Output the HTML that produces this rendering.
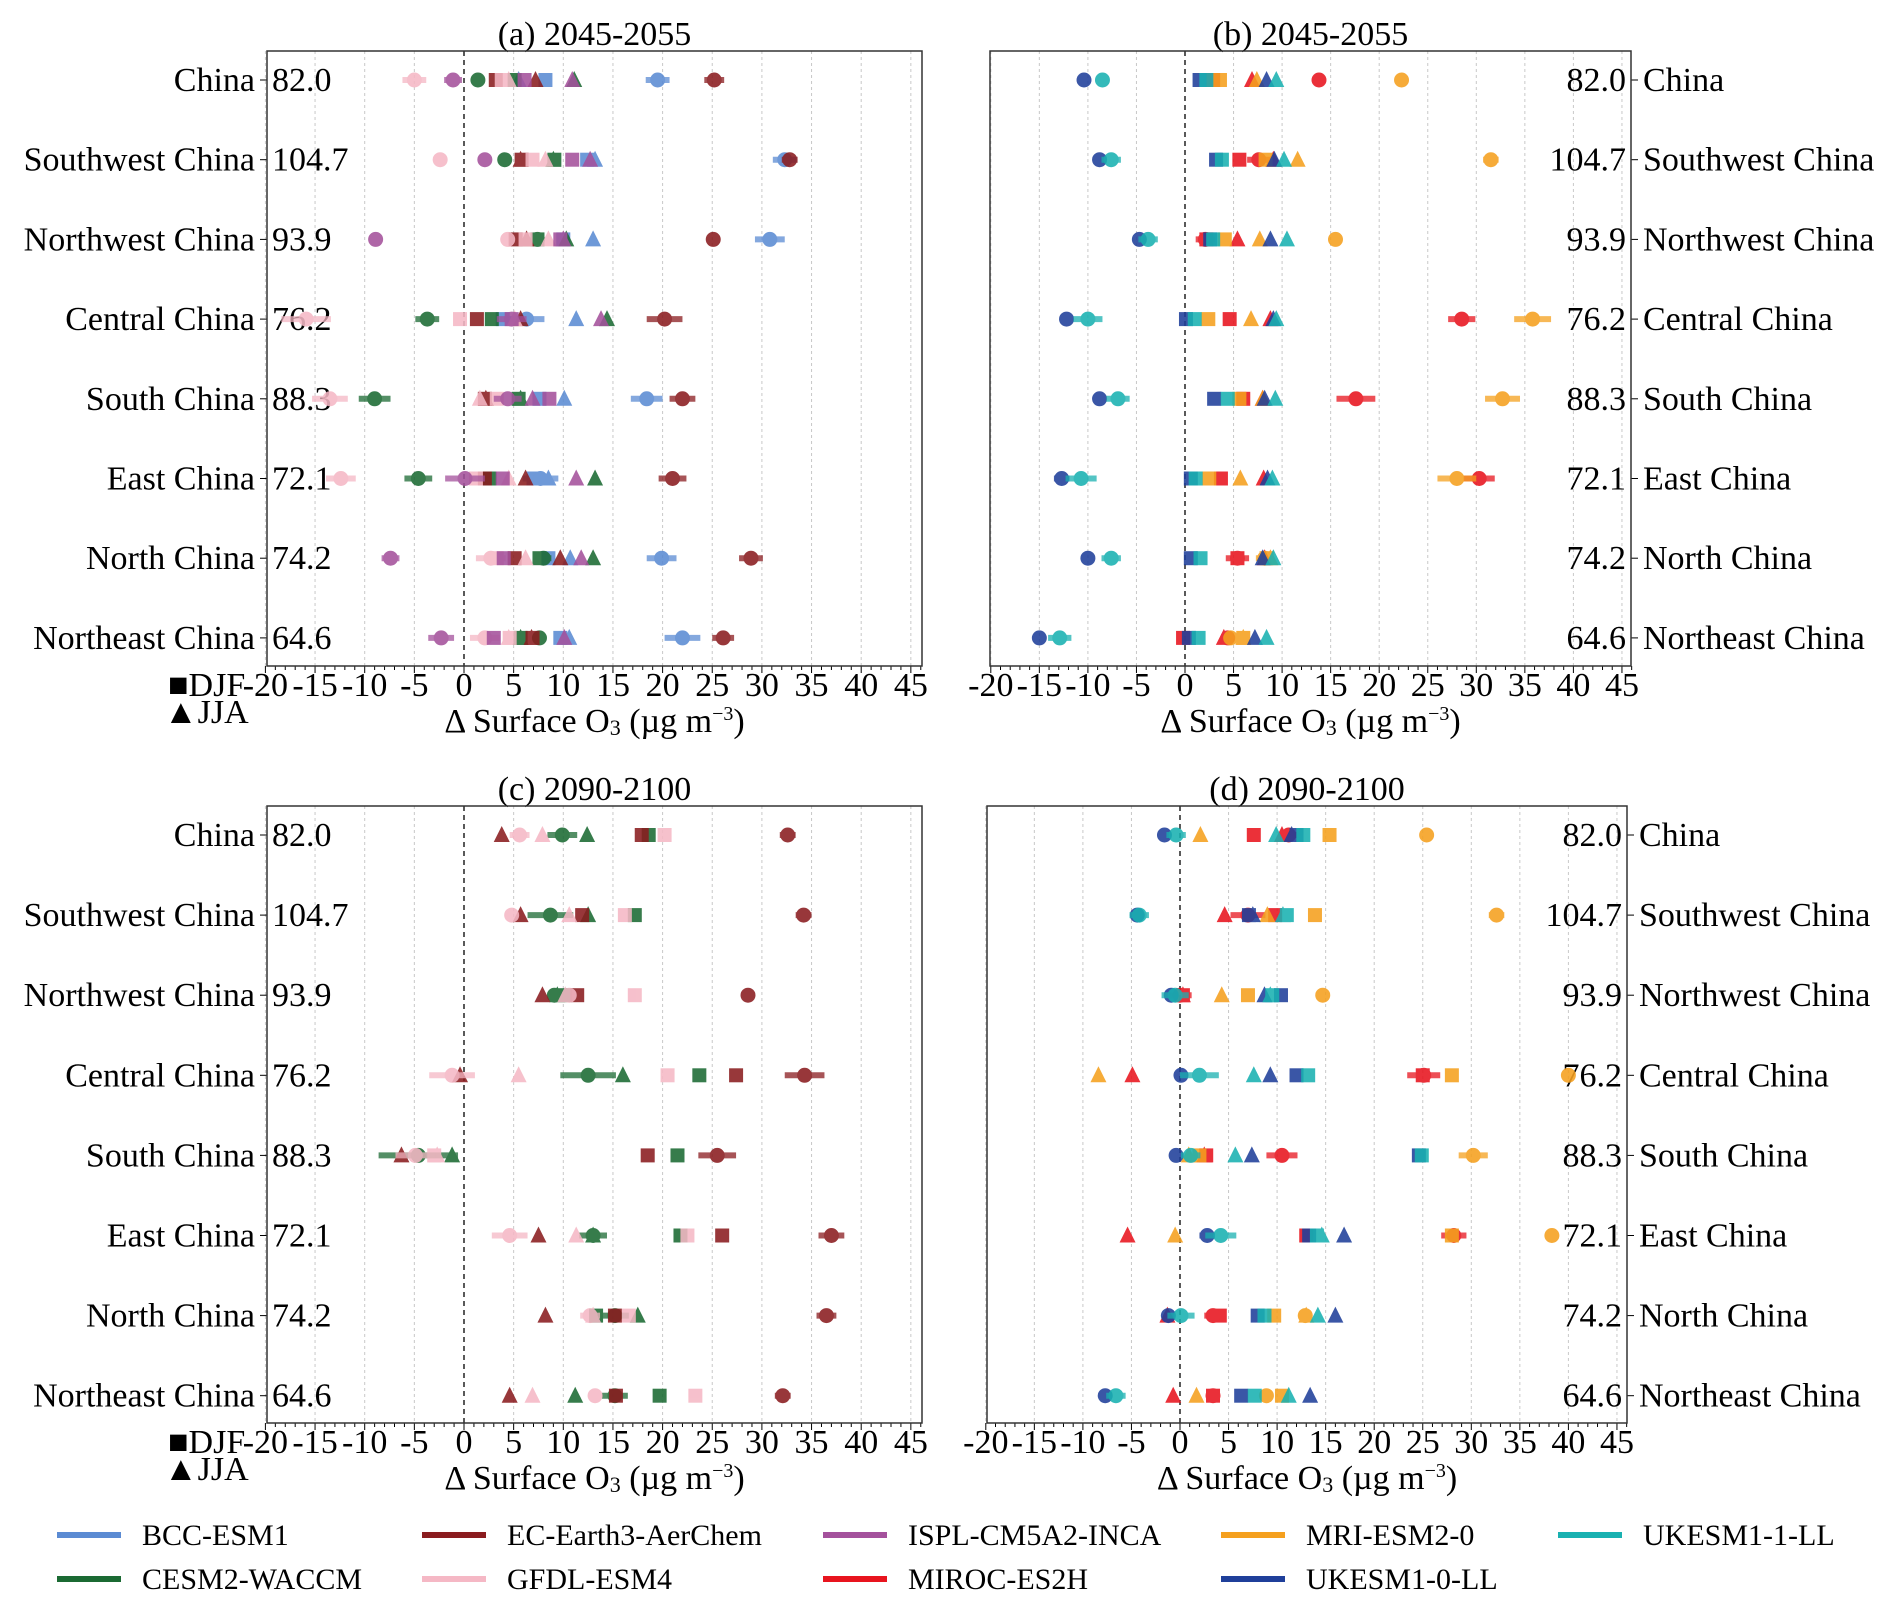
<!DOCTYPE html>
<html><head><meta charset="utf-8"><title>Surface O3 change</title>
<style>
body{margin:0;background:#fff;}
svg{display:block;font-family:"Liberation Serif",serif;}
</style></head>
<body>
<svg id="fig" width="1892" height="1610" viewBox="0 0 1892 1610" xmlns="http://www.w3.org/2000/svg"></svg>
<script>
const regions = ["China","Southwest China","Northwest China","Central China","South China","East China","North China","Northeast China"];
const baselineVals = ["82.0","104.7","93.9","76.2","88.3","72.1","74.2","64.6"];
const xTicks = [-20,-15,-10,-5,0,5,10,15,20,25,30,35,40,45];
const models = ["BCC-ESM1","CESM2-WACCM","EC-Earth3-AerChem","GFDL-ESM4","ISPL-CM5A2-INCA","MIROC-ES2H","MRI-ESM2-0","UKESM1-0-LL","UKESM1-1-LL"];
const modelColors = ["#5b8bd3","#1b6a33","#8a1c1f","#f5b8c5","#a4519c","#e8141e","#f5a01e","#1f3f9a","#19b1b1"];

// Panel (a) 2045-2055
const aBccAnn=[19.5,32.3,30.8,6.3,18.4,7.7,19.9,22.0], aBccErr=[1.2,1.2,1.5,1.8,1.6,1.8,1.5,1.8], aBccDjf=[8.2,12.4,10.0,3.9,7.6,7.0,8.5,9.7], aBccJja=[5.5,13.2,13.0,11.3,10.1,8.5,10.7,10.6];
const aCesmAnn=[1.4,4.1,7.4,-3.7,-9.0,-4.6,8.0,7.6], aCesmErr=[0.5,0.6,0.6,1.2,1.6,1.4,0.8,0.7], aCesmDjf=[5.1,9.1,7.4,2.8,5.5,2.6,7.6,5.7], aCesmJja=[11.1,9.0,10.3,14.4,5.7,13.2,13.0,5.7];
const aEcAnn=[25.2,32.8,25.1,20.2,22.0,21.0,28.9,26.1], aEcErr=[1.0,0.8,0.6,1.8,1.3,1.4,1.2,1.1], aEcDjf=[3.2,5.8,5.2,1.3,2.1,2.1,5.1,6.9], aEcJja=[7.2,5.7,6.3,5.7,2.2,6.2,9.7,6.8];
const aGfdlAnn=[-5.0,-2.4,4.4,-15.9,-13.5,-12.4,2.7,2.1], aGfdlErr=[1.2,0.6,0.5,2.5,1.8,1.5,1.5,1.5], aGfdlDjf=[3.8,6.9,6.2,-0.4,3.3,1.2,3.3,4.6], aGfdlJja=[4.5,8.2,8.5,5.1,1.6,4.5,6.2,4.5];
const aIsplAnn=[-1.1,2.1,-8.9,4.8,4.4,0.1,-7.4,-2.3], aIsplErr=[0.9,0.5,0.5,1.5,1.4,2.0,0.9,1.3], aIsplDjf=[6.1,10.9,9.7,4.8,8.6,3.9,4.0,3.0], aIsplJja=[10.9,12.7,10.0,13.8,6.9,11.3,11.8,10.1];

// Panel (b) 2045-2055
const bMirocAnn=[13.8,7.6,2.1,28.5,17.6,30.3,5.4,4.4], bMirocErr=[0.5,1.2,1.0,1.4,2.0,1.6,1.2,0.5], bMirocDjf=[2.9,5.6,2.2,4.6,6.0,3.7,5.4,-0.2], bMirocJja=[6.9,9.1,5.4,8.8,8.0,8.1,8.2,4.0];
const bMriAnn=[22.3,31.5,15.5,35.8,32.7,28.0,8.2,4.7], bMriErr=[0.7,0.8,0.5,1.9,1.8,2.0,0.9,0.5], bMriDjf=[3.6,8.3,4.1,2.4,5.6,2.5,8.4,6.0], bMriJja=[7.4,11.6,7.7,6.8,8.0,5.7,8.8,6.0];
const bUk0Ann=[-10.4,-8.8,-4.7,-12.2,-8.8,-12.7,-10.0,-15.0], bUk0Err=[0.5,0.5,0.5,0.7,0.7,0.8,0.4,0.4], bUk0Djf=[1.5,3.2,2.6,0.1,3.0,0.6,0.6,0.4], bUk0Jja=[8.4,9.2,8.8,9.1,8.2,8.5,8.0,7.2];
const bUk1Ann=[-8.5,-7.6,-3.8,-10.0,-6.9,-10.7,-7.6,-12.9], bUk1Err=[0.7,1.0,1.0,1.5,1.2,1.6,1.0,1.2], bUk1Djf=[2.2,3.8,2.9,1.0,4.4,1.1,1.6,1.4], bUk1Jja=[9.4,10.2,10.5,9.4,9.3,9.0,9.1,8.4];

// Panel (c) 2090-2100
const cCesmAnn=[9.9,8.7,9.1,12.5,-4.6,13.0,15.2,15.2], cCesmErr=[1.5,2.3,0.6,2.8,4.0,1.4,1.4,1.3], cCesmDjf=[18.6,17.2,10.2,23.7,21.5,21.8,13.3,19.7], cCesmJja=[12.4,12.5,9.4,16.0,-1.2,13.0,17.5,11.2];
const cEcAnn=[32.6,34.2,28.6,34.3,25.5,37.0,36.5,32.1], cEcErr=[0.8,0.8,0.5,2.0,1.9,1.3,1.0,0.8], cEcDjf=[17.9,11.9,11.4,27.4,18.5,26.0,15.2,15.3], cEcJja=[3.8,5.7,7.9,-0.4,-6.3,7.5,8.2,4.6];
const cGfdlAnn=[5.6,4.8,10.6,-1.2,-4.9,4.6,12.7,13.2], cGfdlErr=[1.0,0.5,0.5,2.3,2.0,1.8,1.0,0.5], cGfdlDjf=[20.2,16.2,17.2,20.5,-3.0,22.5,16.6,23.3], cGfdlJja=[7.9,10.6,10.2,5.5,-2.7,11.3,13.0,6.9];

// Panel (d) 2090-2100
const dMirocAnn=[11.2,7.0,0.0,25.1,10.5,28.2,3.4,3.4], dMirocErr=[0.8,1.8,1.2,1.7,1.6,1.3,0.9,0.7], dMirocDjf=[7.6,9.8,0.3,25.0,2.7,13.0,4.1,3.4], dMirocJja=[10.5,4.6,0.3,-4.9,2.5,-5.4,-1.3,-0.7];
const dMriAnn=[25.4,32.6,14.7,40.0,30.2,38.3,12.9,8.9], dMriErr=[0.6,0.8,0.5,0.7,1.5,0.5,0.5,0.5], dMriDjf=[15.4,13.9,7.0,28.0,2.0,28.0,9.7,10.5], dMriJja=[2.1,9.0,4.3,-8.4,0.9,-0.5,13.0,1.7];
const dUk0Ann=[-1.6,-4.4,-0.9,0.1,-0.4,2.8,-1.2,-7.7], dUk0Err=[0.5,0.5,0.5,0.7,0.5,0.8,0.5,0.5], dUk0Djf=[12.0,7.1,10.4,12.0,24.6,13.3,8.0,6.3], dUk0Jja=[11.5,7.5,8.7,9.3,7.4,16.9,16.0,13.4];
const dUk1Ann=[-0.4,-4.2,-0.5,2.0,1.1,4.2,0.1,-6.6], dUk1Err=[1.0,1.0,1.4,2.0,1.0,1.6,1.4,1.0], dUk1Djf=[12.7,11.0,9.5,13.2,24.9,14.1,8.7,7.7], dUk1Jja=[9.9,10.6,9.3,7.6,5.7,14.6,14.2,11.2];

const NS="http://www.w3.org/2000/svg";
const svg=document.getElementById('fig');
function mk(tag,attrs,parent,text){const e=document.createElementNS(NS,tag);for(const k in attrs)e.setAttribute(k,attrs[k]);if(text!==undefined)e.textContent=text;(parent||svg).appendChild(e);return e;}

const panels=[
 {id:'a',title:'(a) 2045-2055',zero:464,unit:9.93,left:267,right:922,top:51,bottom:666,row0:80,rowStep:79.7,side:'left',
  series:[[0,aBccAnn,aBccErr,aBccDjf,aBccJja],[1,aCesmAnn,aCesmErr,aCesmDjf,aCesmJja],[2,aEcAnn,aEcErr,aEcDjf,aEcJja],[3,aGfdlAnn,aGfdlErr,aGfdlDjf,aGfdlJja],[4,aIsplAnn,aIsplErr,aIsplDjf,aIsplJja]]},
 {id:'b',title:'(b) 2045-2055',zero:1185,unit:9.71,left:990,right:1631,top:51,bottom:666,row0:80,rowStep:79.7,side:'right',
  series:[[5,bMirocAnn,bMirocErr,bMirocDjf,bMirocJja],[6,bMriAnn,bMriErr,bMriDjf,bMriJja],[7,bUk0Ann,bUk0Err,bUk0Djf,bUk0Jja],[8,bUk1Ann,bUk1Err,bUk1Djf,bUk1Jja]]},
 {id:'c',title:'(c) 2090-2100',zero:464,unit:9.93,left:267,right:922,top:806,bottom:1423,row0:835,rowStep:80.1,side:'left',
  series:[[1,cCesmAnn,cCesmErr,cCesmDjf,cCesmJja],[2,cEcAnn,cEcErr,cEcDjf,cEcJja],[3,cGfdlAnn,cGfdlErr,cGfdlDjf,cGfdlJja]]},
 {id:'d',title:'(d) 2090-2100',zero:1180,unit:9.71,left:987,right:1627,top:806,bottom:1423,row0:835,rowStep:80.1,side:'right',
  series:[[5,dMirocAnn,dMirocErr,dMirocDjf,dMirocJja],[6,dMriAnn,dMriErr,dMriDjf,dMriJja],[7,dUk0Ann,dUk0Err,dUk0Djf,dUk0Jja],[8,dUk1Ann,dUk1Err,dUk1Djf,dUk1Jja]]}
];

panels.forEach(p=>{
  const xs=v=>p.zero+v*p.unit;
  const ys=i=>p.row0+i*p.rowStep;
  const g=mk('g',{});
  
  
  const cx=(p.left+p.right)/2;
  const t=mk('text',{x:cx,y:p.top-6,'text-anchor':'middle','font-size':34},g,p.title);
  
  
  // gridlines
  xTicks.forEach(v=>{
    if(v===0)return;
    const l=mk('line',{x1:xs(v),x2:xs(v),y1:p.top,y2:p.bottom,stroke:'#c8c8c8','stroke-width':1,'stroke-dasharray':'3,3'},g);
    
    
  });
  const z=mk('line',{x1:xs(0),x2:xs(0),y1:p.top,y2:p.bottom,stroke:'#000','stroke-width':1.3,'stroke-dasharray':'5,4'},g);
  
  
  // minor ticks
  for(let v=-20;v<=46;v++){
    const major=(v%5===0);
    const m=mk('line',{x1:xs(v),x2:xs(v),y1:p.bottom,y2:p.bottom+(major?7:4),stroke:'#000','stroke-width':1},g);
    
    
  }
  xTicks.forEach(v=>{
    const tl=mk('text',{x:xs(v),y:p.bottom+30,'text-anchor':'middle','font-size':34},g,String(v));
    
    
  });
  // x label
  const xl=mk('text',{x:cx,y:p.bottom+66,'text-anchor':'middle','font-size':34},g);
  
  
  mk('tspan',{},xl,'\u0394 Surface O');
  mk('tspan',{'font-size':22,dy:3},xl,'3');
  mk('tspan',{dy:-3},xl,' (\u00b5g m');
  mk('tspan',{'font-size':20,dy:-12},xl,'\u2212');
  mk('tspan',{'font-size':20},xl,'3');
  mk('tspan',{dy:12},xl,')');
  if(p.side==='left'){
    const d1=mk('text',{x:168,y:p.bottom+30,'font-size':34},g,'\u25A0DJF');
    
    
    const d2=mk('text',{x:164,y:p.bottom+57,'font-size':34},g,'\u25B2JJA');
    
    
  }
  // y labels
  regions.forEach((r,i)=>{
    const y=ys(i);
    const tk=mk('line',{x1:p.side==='left'?p.left-7:p.right,x2:p.side==='left'?p.left:p.right+7,y1:y,y2:y,stroke:'#000','stroke-width':1},g);
    
    
    const lab=mk('text',{x:p.side==='left'?p.left-12:p.right+12,y:y+11,'text-anchor':p.side==='left'?'end':'start','font-size':34},g,r);
    
    
    const bv=mk('text',{x:p.side==='left'?p.left+5:p.right-5,y:y+11,'text-anchor':p.side==='left'?'start':'end','font-size':34},g,baselineVals[i]);
    
    
  });
  // markers
  p.series.forEach(s=>{
    const [mi,ann,err,djf,jja]=s;
    const col=modelColors[mi];
    const sg=mk('g',{opacity:0.88},g);
    
    
    for(let i=0;i<regions.length;i++){
      const y=ys(i);
      const sq=mk('rect',{x:xs(djf[i])-7,y:y-7,width:14,height:14,fill:col},sg);
      
      
      const tx=xs(jja[i]);
      const tr=mk('polygon',{points:`${tx-8},${y+7} ${tx+8},${y+7} ${tx},${y-9}`,fill:col},sg);
      
      
      const eb=mk('line',{x1:xs(ann[i]-err[i]),x2:xs(ann[i]+err[i]),y1:y,y2:y,stroke:col,'stroke-width':6,opacity:0.85},sg);
      
      
      const c=mk('circle',{cx:xs(ann[i]),cy:y,r:7.5,fill:col},sg);
      
      
    }
  });
  const fr=mk('rect',{x:p.left,y:p.top,width:p.right-p.left,height:p.bottom-p.top,fill:'none',stroke:'#333','stroke-width':1.5},g);
  
  
});

// legend
const legCols=[57,422,823,1221,1558];
const legOrder=[[0,0,0],[1,0,1],[2,1,0],[3,1,1],[4,2,0],[5,2,1],[6,3,0],[7,3,1],[8,4,0]];
const lg=mk('g',{});


legOrder.forEach(([mi,c,r])=>{
  const y=r===0?1535:1579;
  const x=legCols[c];
  const e=mk('g',{},lg);
  
  
  mk('line',{x1:x,x2:x+64,y1:y,y2:y,stroke:modelColors[mi],'stroke-width':6},e);
  mk('text',{x:x+85,y:y+10,'font-size':30},e,models[mi]);
});
</script>
</body></html>
